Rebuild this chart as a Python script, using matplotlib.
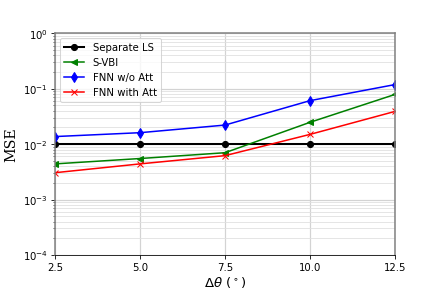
import matplotlib
matplotlib.use("Agg")
import matplotlib.pyplot as plt

delta_theta = [2.5, 5.0, 7.5, 10.0, 12.5]
separate_ls = [0.01, 0.01, 0.01, 0.01, 0.01]
s_vbi = [0.0044, 0.0055, 0.0070, 0.0248, 0.079]
fnn_wo_att = [0.0137, 0.0161, 0.0221, 0.061, 0.119]
fnn_with_att = [0.00305, 0.0044, 0.0062, 0.0150, 0.039]

fig = plt.figure(figsize=(6, 4), dpi=439 / 6)
ax = fig.add_axes([0.1253, 0.1267, 0.7745, 0.757])

ax.plot(delta_theta, separate_ls, marker="o", color="black", linewidth=2, markersize=6, label="Separate LS")
ax.plot(delta_theta, s_vbi, marker="<", color="green", linewidth=1.5, markersize=6, label="S-VBI")
ax.plot(delta_theta, fnn_wo_att, marker="d", color="blue", linewidth=1.5, markersize=7, label="FNN w/o Att")
ax.plot(delta_theta, fnn_with_att, marker="x", color="red", linewidth=1.5, markersize=6, label="FNN with Att")

ax.set_yscale("log")
ax.set_ylim(1e-4, 1e0)
ax.set_xlim(2.5, 12.5)
ax.set_xticks(delta_theta)
ax.grid(True, which="major", color="lightgray", linewidth=1.2)
ax.grid(True, which="minor", color="#e0e0e0", linewidth=0.8)

for side in ["left", "top", "right"]:
    ax.spines[side].set_color("gray")
    ax.spines[side].set_linewidth(1.5)

ax.set_xlabel(r"$\Delta\theta\ (^\circ)$", fontsize=13, labelpad=2)
ax.set_ylabel("MSE", fontsize=14, family="DejaVu Serif")
ax.legend(loc="upper left", fontsize=10)

fig.savefig("out.png", dpi=439 / 6)
